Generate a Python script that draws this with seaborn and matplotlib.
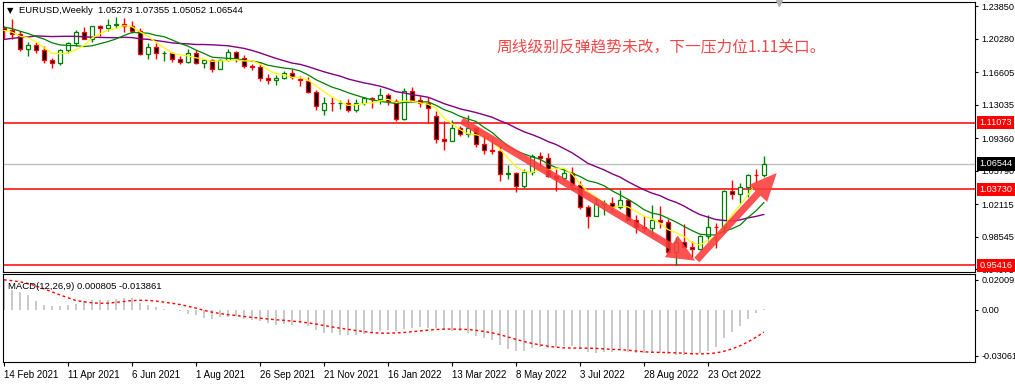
import numpy as np
import pandas as pd
import seaborn as sns
import matplotlib.pyplot as plt

# weekly candles, week of 14 Feb 2021 .. week of 11 Dec 2022
opens = [1.2145, 1.2117, 1.2075, 1.1915, 1.1952, 1.1904, 1.1795, 1.1762, 1.1899, 1.1983,
         1.2097, 1.2020, 1.2164, 1.2144, 1.2179, 1.2193, 1.2168, 1.2106, 1.1860, 1.1936,
         1.1865, 1.1874, 1.1809, 1.1770, 1.1869, 1.1762, 1.1795, 1.1698, 1.1793, 1.1880,
         1.1813, 1.1727, 1.1719, 1.1596, 1.1573, 1.1601, 1.1645, 1.1580, 1.1567, 1.1446,
         1.1250, 1.1317, 1.1316, 1.1318, 1.1240, 1.1320, 1.1375, 1.1360, 1.1412, 1.1345,
         1.1145, 1.1453, 1.1350, 1.1320, 1.1180, 1.0930, 1.0910, 1.1050, 1.0985, 1.1045,
         1.0877, 1.0810, 1.0795, 1.0545, 1.0550, 1.0410, 1.0560, 1.0735, 1.0720, 1.0520,
         1.0495, 1.0555, 1.0425, 1.0185, 1.0080, 1.0210, 1.0220, 1.0180, 1.0260, 1.0040,
         0.9965, 0.9955, 1.0040, 1.0015, 0.9690, 0.9800, 0.9740, 0.9720, 0.9860, 0.9965,
         0.9960, 1.0355, 1.0325, 1.0400, 1.0535, 1.05273]
highs = [1.2170, 1.2243, 1.2114, 1.1990, 1.1989, 1.1945, 1.1815, 1.1915, 1.1995, 1.2117,
         1.2150, 1.2171, 1.2181, 1.2245, 1.2266, 1.2254, 1.2218, 1.2144, 1.1975, 1.1975,
         1.1895, 1.1880, 1.1832, 1.1909, 1.1900, 1.1804, 1.1803, 1.1803, 1.1909, 1.1887,
         1.1846, 1.1752, 1.1755, 1.1640, 1.1624, 1.1669, 1.1692, 1.1616, 1.1608, 1.1464,
         1.1385, 1.1383, 1.1355, 1.1360, 1.1360, 1.1386, 1.1387, 1.1482, 1.1435, 1.1370,
         1.1483, 1.1495, 1.1395, 1.1390, 1.1235, 1.1121, 1.1137, 1.1070, 1.1185, 1.1055,
         1.0950, 1.0936, 1.0850, 1.0640, 1.0570, 1.0600, 1.0765, 1.0787, 1.0774, 1.0601,
         1.0606, 1.0615, 1.0463, 1.0200, 1.0278, 1.0254, 1.0293, 1.0368, 1.0266, 1.0090,
         1.0080, 1.0198, 1.0197, 1.0050, 0.9854, 0.9999, 0.9809, 0.9874, 1.0094, 1.0000,
         1.0363, 1.0481, 1.0449, 1.0545, 1.0594, 1.07355]
lows = [1.2023, 1.2022, 1.1894, 1.1835, 1.1874, 1.1762, 1.1704, 1.1740, 1.1870, 1.1950,
        1.2019, 1.1986, 1.2051, 1.2113, 1.2140, 1.2104, 1.2093, 1.1847, 1.1805, 1.1807,
        1.1781, 1.1772, 1.1751, 1.1755, 1.1753, 1.1705, 1.1664, 1.1690, 1.1780, 1.1771,
        1.1700, 1.1684, 1.1563, 1.1529, 1.1524, 1.1586, 1.1580, 1.1513, 1.1433, 1.1250,
        1.1186, 1.1235, 1.1260, 1.1222, 1.1222, 1.1300, 1.1272, 1.1315, 1.1300, 1.1121,
        1.1140, 1.1374, 1.1280, 1.1106, 1.0886, 1.0806, 1.0900, 1.0960, 1.0945, 1.0837,
        1.0757, 1.0760, 1.0470, 1.0490, 1.0350, 1.0390, 1.0530, 1.0627, 1.0510, 1.0359,
        1.0470, 1.0366, 1.0160, 0.9952, 1.0080, 1.0097, 1.0123, 1.0160, 1.0033, 0.9900,
        0.9910, 0.9865, 0.9955, 0.9670, 0.9542, 0.9730, 0.9632, 0.9705, 0.9807, 0.9730,
        0.9899, 1.0271, 1.0223, 1.0290, 1.0443, 1.05052]
closes = [1.2117, 1.2075, 1.1915, 1.1952, 1.1904, 1.1795, 1.1762, 1.1899, 1.1983, 1.2097,
          1.2020, 1.2164, 1.2144, 1.2179, 1.2193, 1.2168, 1.2106, 1.1860, 1.1936, 1.1865,
          1.1874, 1.1809, 1.1770, 1.1869, 1.1762, 1.1795, 1.1698, 1.1793, 1.1880, 1.1813,
          1.1727, 1.1719, 1.1596, 1.1573, 1.1601, 1.1645, 1.1605, 1.1574, 1.1446, 1.1285,
          1.1317, 1.1316, 1.1318, 1.1240, 1.1320, 1.1375, 1.1360, 1.1412, 1.1345, 1.1145,
          1.1453, 1.1350, 1.1320, 1.1270, 1.0930, 1.0910, 1.1050, 1.0985, 1.1045, 1.0877,
          1.0810, 1.0795, 1.0545, 1.0550, 1.0410, 1.0560, 1.0735, 1.0720, 1.0520, 1.0495,
          1.0555, 1.0425, 1.0185, 1.0080, 1.0210, 1.0220, 1.0180, 1.0260, 1.0040, 0.9965,
          0.9955, 1.0040, 1.0015, 0.9690, 0.9800, 0.9740, 0.9720, 0.9860, 0.9965, 0.9960,
          1.0355, 1.0325, 1.0400, 1.0535, 1.0530, 1.06544]
# closes of the 19 weeks before the first candle (needed for the moving averages)
pre_closes = [1.1826, 1.1718, 1.1860, 1.1646, 1.1876, 1.1833, 1.1856, 1.1962, 1.2120, 1.2110,
              1.2255, 1.2188, 1.2216, 1.2220, 1.2080, 1.2170, 1.2135, 1.2045, 1.2120]

# MACD(12,26,9) main line (grey histogram)
macd_main = [0.0206, 0.0133, 0.0122, 0.0100, 0.0056, 0.0029, 0.0022, 0.0022, 0.0033, 0.0038,
             0.0056, 0.0067, 0.0067, 0.0067, 0.0073, 0.0078, 0.0078, 0.0044, 0.0033, 0.0016,
             0.0004, 0.0000, -0.0011, -0.0029, -0.0038, -0.0056, -0.0060, -0.0051, -0.0051, -0.0044,
             -0.0062, -0.0067, -0.0073, -0.0089, -0.0100, -0.0095, -0.0100, -0.0089, -0.0111, -0.0133,
             -0.0155, -0.0155, -0.0167, -0.0167, -0.0167, -0.0162, -0.0155, -0.0144, -0.0133, -0.0140,
             -0.0127, -0.0122, -0.0118, -0.0122, -0.0122, -0.0133, -0.0140, -0.0144, -0.0155, -0.0178,
             -0.0189, -0.0200, -0.0233, -0.0260, -0.0275, -0.0272, -0.0253, -0.0249, -0.0253, -0.0249,
             -0.0242, -0.0242, -0.0264, -0.0280, -0.0286, -0.0280, -0.0280, -0.0271, -0.0280, -0.0290,
             -0.0290, -0.0290, -0.0290, -0.0295, -0.0300, -0.0300, -0.0300, -0.0290, -0.0275, -0.0250,
             -0.0190, -0.0150, -0.0107, -0.0063, -0.0024, 0.000805]
pre_macd = [0.0185, 0.0192, 0.0198, 0.0203, 0.0206, 0.0205, 0.0203, 0.0202]

levels_red = [1.11073, 1.03730, 0.95416]
last_price = 1.06544
price_ticks = [1.23850, 1.20280, 1.16605, 1.13035, 1.09360, 1.05790, 1.02115, 0.98545, 0.94975]
macd_ticks = [0.020091, 0.0, -0.03061]
macd_tick_labels = ['0.020091', '0.00', '-0.03061']

# hand drawn arrows: (candle index, price) of start and tip
arrow_down = [(57.2, 1.1127), (86.4, 0.9592)]
arrow_up = [(86.6, 0.9600), (96.6, 1.0554)]
note = '周线级别反弹趋势未改，下一压力位1.11关口。'

sns.set_theme(style='white')
plt.rcParams['font.family'] = ['Liberation Sans', 'DejaVu Sans']
plt.rcParams['axes.edgecolor'] = 'black'
plt.rcParams['axes.linewidth'] = 0.8

GREEN = '#008000'
RED = '#ff0000'
LABEL_SIZE = 6.6

weeks = pd.date_range('2021-02-14', periods=len(closes), freq='7D')
df = pd.DataFrame({'o': opens, 'h': highs, 'l': lows, 'c': closes})
df['x'] = np.arange(len(df))
all_close = pd.Series(pre_closes + closes)
n_pre = len(pre_closes)
df['ma5'] = all_close.rolling(5).mean().values[n_pre:]
df['ma10'] = all_close.rolling(10).mean().values[n_pre:]
df['ma20'] = all_close.rolling(20).mean().values[n_pre:]
macd_all = pd.Series(pre_macd + macd_main)
df['macd'] = macd_main
df['signal'] = macd_all.rolling(9).mean().values[len(pre_macd):]

fig = plt.figure(figsize=(10.15, 3.86), dpi=100)
ax = fig.add_axes([0.00296, 0.2961, 0.9576, 0.6987])
ax2 = fig.add_axes([0.00296, 0.0614, 0.9576, 0.228])

# levels
for lv in levels_red:
    ax.axhline(lv, color=RED, lw=1.1, zorder=1)
ax.axhline(last_price, color='#c0c0c0', lw=1.0, zorder=1)

# candles
up = df['c'] >= df['o']
dn = ~up
ax.vlines(df['x'][up], df['l'][up], df['h'][up], color=GREEN, lw=1.0, zorder=3)
ax.vlines(df['x'][dn], df['l'][dn], df['h'][dn], color=RED, lw=1.0, zorder=3)
ax.bar(df['x'][up], (df['c'] - df['o'])[up].clip(lower=0.0001), bottom=df['o'][up], width=0.56,
       color='white', edgecolor=GREEN, lw=0.9, zorder=4)
ax.bar(df['x'][dn], (df['o'] - df['c'])[dn].clip(lower=0.0001), bottom=df['c'][dn], width=0.56,
       color='black', edgecolor=RED, lw=0.9, zorder=4)

# moving averages
sns.lineplot(x=df['x'], y=df['ma20'], color='#800080', lw=1.0, ax=ax, zorder=5)
sns.lineplot(x=df['x'], y=df['ma10'], color=GREEN, lw=0.9, ax=ax, zorder=5)
sns.lineplot(x=df['x'], y=df['ma5'], color='#ffff00', lw=0.9, ax=ax, zorder=5)

# arrows
for (x0, y0), (x1, y1) in [arrow_down, arrow_up]:
    ax.annotate('', xy=(x1, y1), xytext=(x0, y0),
                arrowprops=dict(arrowstyle='simple,head_length=2.0,head_width=1.8,tail_width=0.5',
                                fc='#ff3b3b', ec='none', alpha=0.88, mutation_scale=10,
                                shrinkA=0, shrinkB=0), zorder=8)

ax.text(61.6, 1.1935, note, color='#f04848', fontsize=11.3, ha='left', va='center',
        family=['Noto Sans CJK SC', 'DejaVu Sans'], zorder=9)
ax.text(0.0079, 0.967, '▼', transform=ax.transAxes, fontsize=6, ha='center', va='center',
        family='DejaVu Sans', color='black')
ax.text(0.0168, 0.967, 'EURUSD,Weekly  1.05273 1.07355 1.05052 1.06544', transform=ax.transAxes,
        fontsize=6.8, ha='left', va='center', color='black')
ax.plot([96.9], [1.2413], marker='v', color='#b0b0b0', ms=5, clip_on=False, zorder=9)

ax.set_xlim(-0.125, 121.375)
ax.set_ylim(0.94713, 1.24289)
ax.set_xlabel('')
ax.set_ylabel('')
ax.set_xticks([])
ax.yaxis.tick_right()
ax.set_yticks(price_ticks)
ax.set_yticklabels([f'{v:.5f}' for v in price_ticks])
ax.tick_params(axis='y', direction='out', length=2.5, width=0.8, pad=2.0, labelsize=LABEL_SIZE,
               colors='black', right=True, left=False)

# price tags on the right
for lv, fc in [(levels_red[0], RED), (last_price, 'black'), (levels_red[1], RED), (levels_red[2], RED)]:
    ax.text(1.0047, lv, f'{lv:.5f}', transform=ax.get_yaxis_transform(), ha='left', va='center',
            fontsize=LABEL_SIZE, color='white', clip_on=False, zorder=10,
            bbox=dict(boxstyle='square,pad=0.25', fc=fc, ec='none'))

# MACD panel
ax2.vlines(df['x'], 0, df['macd'], color='#c0c0c0', lw=1.2, zorder=2)
sns.lineplot(x=df['x'], y=df['signal'], color=RED, lw=1.0, ax=ax2, zorder=3)
ax2.lines[-1].set_linestyle((0, (2, 2)))
ax2.text(0.005, 0.86, 'MACD(12,26,9) 0.000805 -0.013861', transform=ax2.transAxes, fontsize=6.8,
         ha='left', va='center', color='black')
ax2.set_xlim(-0.125, 121.375)
ax2.set_ylim(-0.03502, 0.02368)
ax2.set_xlabel('')
ax2.set_ylabel('')
ax2.yaxis.tick_right()
ax2.set_yticks(macd_ticks)
ax2.set_yticklabels(macd_tick_labels)
ax2.tick_params(axis='y', direction='out', length=2.5, width=0.8, pad=2.0, labelsize=LABEL_SIZE,
                colors='black', right=True, left=False)
tick_idx = list(range(0, len(weeks), 8))
ax2.set_xticks(tick_idx)
ax2.set_xticklabels([f'{weeks[i].day} {weeks[i]:%b %Y}' for i in tick_idx], ha='left')
ax2.tick_params(axis='x', direction='out', length=3, width=0.8, pad=2.5, labelsize=LABEL_SIZE + 0.4,
                colors='black', bottom=True)

fig.savefig('out.png', dpi=100, facecolor='white')
